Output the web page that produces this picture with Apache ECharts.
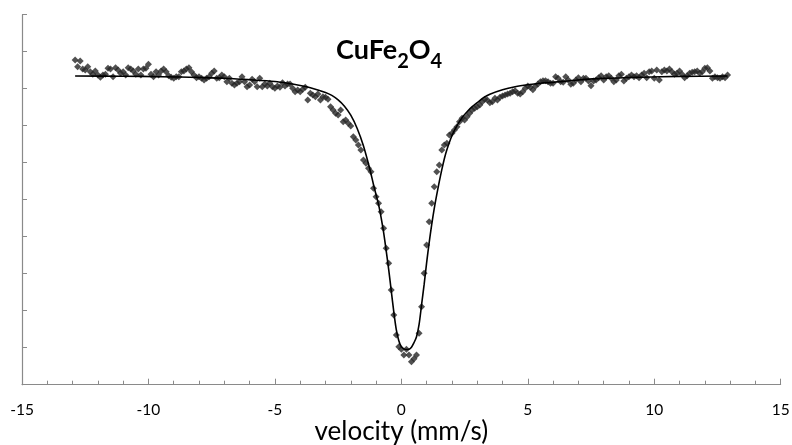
<!DOCTYPE html>
<html><head><meta charset="utf-8">
<script src="https://cdn.jsdelivr.net/npm/echarts@6/dist/echarts.min.js"></script>
<style>html,body{margin:0;padding:0;background:#fff}#c{width:792px;height:445px}</style>
</head><body><div id="c"></div>
<script>
// Measured spectrum: velocity (mm/s) and relative counts (arb. units)
const velocity = [
-12.9,-12.8,-12.7,-12.6,-12.5,-12.4,-12.3,-12.2,-12.1,-12.0,
-11.9,-11.8,-11.7,-11.6,-11.5,-11.4,-11.3,-11.2,-11.1,-11.0,
-10.9,-10.8,-10.7,-10.6,-10.5,-10.4,-10.3,-10.2,-10.1,-10.0,
-9.9,-9.8,-9.7,-9.6,-9.5,-9.4,-9.3,-9.2,-9.1,-9.0,
-8.9,-8.8,-8.7,-8.6,-8.5,-8.4,-8.3,-8.2,-8.1,-8.0,
-7.9,-7.8,-7.7,-7.6,-7.5,-7.4,-7.3,-7.2,-7.1,-7.0,
-6.9,-6.8,-6.7,-6.6,-6.5,-6.4,-6.3,-6.2,-6.1,-6.0,
-5.9,-5.8,-5.7,-5.6,-5.5,-5.4,-5.3,-5.2,-5.1,-5.0,
-4.9,-4.8,-4.7,-4.6,-4.5,-4.4,-4.3,-4.2,-4.1,-4.0,
-3.9,-3.8,-3.7,-3.6,-3.5,-3.4,-3.3,-3.2,-3.1,-3.0,
-2.9,-2.8,-2.7,-2.6,-2.5,-2.4,-2.3,-2.2,-2.1,-2.0,
-1.9,-1.8,-1.7,-1.6,-1.5,-1.4,-1.3,-1.2,-1.1,-1.0,
-0.9,-0.8,-0.7,-0.6,-0.5,-0.4,-0.3,-0.2,-0.1,0.0,
0.1,0.2,0.3,0.4,0.5,0.6,0.7,0.8,0.9,1.0,
1.1,1.2,1.3,1.4,1.5,1.6,1.7,1.8,1.9,2.0,
2.1,2.2,2.3,2.4,2.5,2.6,2.7,2.8,2.9,3.0,
3.1,3.2,3.3,3.4,3.5,3.6,3.7,3.8,3.9,4.0,
4.1,4.2,4.3,4.4,4.5,4.6,4.7,4.8,4.9,5.0,
5.1,5.2,5.3,5.4,5.5,5.6,5.7,5.8,5.9,6.0,
6.1,6.2,6.3,6.4,6.5,6.6,6.7,6.8,6.9,7.0,
7.1,7.2,7.3,7.4,7.5,7.6,7.7,7.8,7.9,8.0,
8.1,8.2,8.3,8.4,8.5,8.6,8.7,8.8,8.9,9.0,
9.1,9.2,9.3,9.4,9.5,9.6,9.7,9.8,9.9,10.0,
10.1,10.2,10.3,10.4,10.5,10.6,10.7,10.8,10.9,11.0,
11.1,11.2,11.3,11.4,11.5,11.6,11.7,11.8,11.9,12.0,
12.1,12.2,12.3,12.4,12.5,12.6,12.7,12.8,12.9
];
const counts = [
324.7,318.0,323.7,315.7,314.7,318.0,313.0,310.4,313.7,309.7,
307.4,309.7,310.4,316.4,315.7,308.0,317.0,314.7,311.4,313.0,
309.7,317.0,315.7,313.7,310.4,315.7,309.7,315.7,316.4,320.4,
310.4,308.0,313.0,309.7,313.7,315.7,313.0,309.0,307.4,306.4,
308.0,308.0,313.0,313.7,315.7,317.0,313.0,309.7,307.0,308.0,
306.4,304.7,306.4,308.0,311.4,313.7,306.4,307.0,309.7,308.0,
303.0,306.4,
301.4,299.7,301.4,303.0,308.0,303.0,298.0,299.7,305.4,303.0,
298.0,306.4,298.0,300.7,298.7,301.4,298.0,296.4,298.7,297.4,
302.0,298.7,300.7,300.7,296.4,293.0,294.7,293.0,295.4,297.4,
284.7,291.4,289.7,288.0,290.7,284.7,288.0,287.4,285.4,278.0,
274.7,271.4,269.7,274.7,263.0,264.7,261.4,258.7,248.0,244.7,
239.7,234.7,224.7,221.4,216.4,213.0,196.4,188.0,
181.4,173.0,156.4,136.4,121.4,94.7,69.7,49.7,38.0,
35.4,29.7,35.4,29.7,23.0,26.0,29.7,
51.4,78.0,111.4,139.7,163.0,181.4,198.0,213.0,219.7,234.7,
239.7,241.4,249.7,251.4,254.7,258.0,263.0,266.4,264.7,268.0,
271.4,274.7,
276.4,278.0,279.7,283.0,285.4,284.7,282.0,283.0,286.4,284.7,
287.4,288.7,289.7,290.7,291.4,293.0,294.0,291.4,290.7,293.0,
296.4,298.7,297.4,295.0,298.4,300.7,303.0,304.0,304.0,303.0,
301.4,
301.4,308.0,306.4,303.0,302.4,308.0,304.7,300.4,301.4,304.7,
307.0,303.0,306.4,306.4,303.7,299.0,303.7,304.7,307.0,309.0,
304.7,308.0,309.0,306.4,303.0,304.7,309.0,310.4,303.7,306.4,
308.0,309.7,308.0,309.0,307.0,309.7,311.4,307.0,313.0,313.7,
306.4,314.7,304.7,313.0,314.7,313.7,315.7,313.0,310.4,311.4,
313.7,310.4,307.0,309.0,311.4,312.4,313.0,313.7,311.4,313.0,
316.4,317.0,313.7,306.4,308.0,307.0,306.4,308.0,307.0,309.7
];
// Fitted curve
const fitVelocity = [-12.9,-11,-9.5,-8,-7,-6,-5,-4.5,-4,-3.5,-3,-2.75,-2.5,-2.25,-2,-1.75,-1.5,-1.25,-1.1,-1.0,
-0.9,-0.8,-0.7,-0.6,-0.5,-0.4,-0.3,-0.2,-0.1,0.0,0.1,0.2,0.3,0.4,0.5,0.6,0.7,0.8,0.9,1.0,
1.1,1.2,1.3,1.4,1.5,1.6,1.7,1.8,2.0,2.2,2.4,2.6,2.8,3.0,3.25,3.5,4.0,4.5,5.0,5.5,6.0,7.0,8.0,9.5,11,12.9];
const fitCounts = [308.7,308.5,308.0,307.2,306.5,305.0,303.2,301.5,299.2,296.3,292.3,289.3,284.8,278.5,269.5,256.5,239.0,216.0,200.0,190.0,
180.0,167.0,152.0,134.0,115.0,94.0,73.0,55.0,44.0,38.0,35.8,35.2,35.4,37.5,42.0,48.0,60.0,80.0,100.0,122.0,
142.0,160.0,176.0,190.0,203.0,215.0,226.0,235.0,249.0,259.0,267.0,273.0,278.0,282.0,287.0,290.5,295.0,298.0,300.0,301.5,302.5,304.7,306.3,307.5,308.3,308.7];

const xTickLabels = [-15, -10, -5, 0, 5, 10, 15];
const xName = 'velocity (mm/s)';
const titleParts = ['CuFe', '2', 'O', '4'];

const scatterData = velocity.map((v, i) => [v, counts[i]]);
const fitData = fitVelocity.map((v, i) => [v, fitCounts[i]]);

const axisGray = '#8a8a8a';
const font = 'Lato, "Liberation Sans", sans-serif';

const chart = echarts.init(document.getElementById('c'), null, {renderer: 'canvas'});
chart.setOption({
  animation: false,
  backgroundColor: '#fff',
  title: {
    text: '{a|' + titleParts[0] + '}{b|' + titleParts[1] + '}{a|' + titleParts[2] + '}{b|' + titleParts[3] + '}',
    left: 336, top: 37, padding: 0,
    textStyle: {
      rich: {
        a: {fontSize: 27, fontWeight: 'bold', fontFamily: font, color: '#000', lineHeight: 30, verticalAlign: 'top'},
        b: {fontSize: 20, fontWeight: 'bold', fontFamily: font, color: '#000', lineHeight: 20, padding: [15, 0, 0, 0], verticalAlign: 'top'}
      }
    }
  },
  grid: {left: 22, right: 11.3, top: 14.7, bottom: 60.3, containLabel: false, outerBoundsMode: 'none'},
  xAxis: {
    type: 'value', min: xTickLabels[0], max: xTickLabels[xTickLabels.length - 1], interval: 5,
    axisLine: {show: true, onZero: false, lineStyle: {color: axisGray, width: 1}},
    axisTick: {show: true, inside: true, length: 6, lineStyle: {color: axisGray}},
    minorTick: {show: true, splitNumber: 5, length: 4, lineStyle: {color: axisGray}},
    splitLine: {show: false},
    axisLabel: {color: '#000', fontSize: 15.5, fontFamily: font, margin: 17,
      formatter: v => xTickLabels.includes(v) ? String(v) : ''},
    name: xName, nameLocation: 'middle', nameGap: 33, nameMoveOverlap: false,
    nameTextStyle: {color: '#000', fontSize: 26, fontFamily: font, lineHeight: 28}
  },
  yAxis: {
    type: 'value', min: 0, max: 370, interval: 37,
    axisLine: {show: true, onZero: false, lineStyle: {color: axisGray, width: 1.2}},
    axisTick: {show: true, inside: true, length: 5, lineStyle: {color: axisGray}},
    axisLabel: {show: false},
    splitLine: {show: false}
  },
  series: [
    {type: 'scatter', data: scatterData, symbol: 'diamond', symbolSize: 7,
     itemStyle: {color: '#262626'}, z: 2},
    {type: 'line', data: fitData, showSymbol: false, smooth: 0.3,
     lineStyle: {color: '#000', width: 1.6}, z: 3}
  ]
});
</script>
</body></html>
